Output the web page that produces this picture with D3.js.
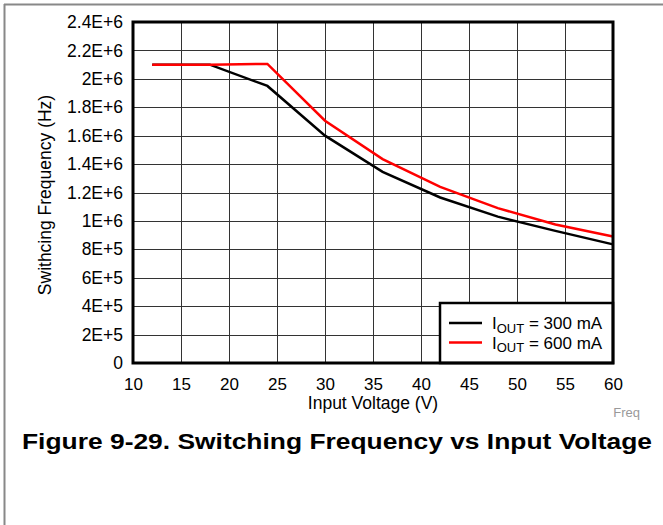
<!DOCTYPE html>
<html><head><meta charset="utf-8">
<script src="https://cdn.jsdelivr.net/npm/d3@7"></script>
<style>body{margin:0;background:#fff;}svg{display:block;font-family:"Liberation Sans",Arial,sans-serif;}</style>
</head><body>
<script>
const voltage = [12, 18, 24, 30, 36, 42, 48, 54, 60];
const freq300 = [2.1e6, 2.1e6, 1.95e6, 1.6e6, 1.345e6, 1.165e6, 1.03e6, 0.93e6, 0.835e6];
const freq600 = [2.1e6, 2.1e6, 2.105e6, 1.705e6, 1.435e6, 1.24e6, 1.09e6, 0.975e6, 0.89e6];
const xTicks = [10, 15, 20, 25, 30, 35, 40, 45, 50, 55, 60];
const yTicks = [0, 2e5, 4e5, 6e5, 8e5, 1e6, 1.2e6, 1.4e6, 1.6e6, 1.8e6, 2e6, 2.2e6, 2.4e6];
const yTickLabels = ["0", "2E+5", "4E+5", "6E+5", "8E+5", "1E+6", "1.2E+6", "1.4E+6", "1.6E+6", "1.8E+6", "2E+6", "2.2E+6", "2.4E+6"];
const seriesNames = ["300 mA", "600 mA"];
const seriesColors = ["#000000", "#ff0000"];

const W = 663, H = 525;
const svg = d3.select("body").append("svg").attr("width", W).attr("height", H);

// outer frame
svg.append("line").attr("x1", 4.5).attr("x2", 4.5).attr("y1", 4).attr("y2", H).attr("stroke", "#888").attr("stroke-width", 2);
svg.append("line").attr("x1", 4).attr("x2", W).attr("y1", 4.5).attr("y2", 4.5).attr("stroke", "#888").attr("stroke-width", 2);

const L = 133, R = 613, T = 22, B = 363;
const x = d3.scaleLinear().domain([10, 60]).range([L, R]);
const y = d3.scaleLinear().domain([0, 2.4e6]).range([B, T]);

const g = svg.append("g");
// grid
g.selectAll(".vg").data(xTicks).enter().append("line")
  .attr("x1", d => Math.round(x(d)) + 0.5).attr("x2", d => Math.round(x(d)) + 0.5)
  .attr("y1", T).attr("y2", B).attr("stroke", "#333").attr("stroke-width", 1);
g.selectAll(".hg").data(yTicks).enter().append("line")
  .attr("y1", d => Math.round(y(d)) + 0.5).attr("y2", d => Math.round(y(d)) + 0.5)
  .attr("x1", L).attr("x2", R).attr("stroke", "#333").attr("stroke-width", 1);

// axes labels via d3 axes
const xAxis = d3.axisBottom(x).tickValues(xTicks).tickSize(0).tickPadding(15).tickFormat(d3.format("d"));
const xa = svg.append("g").attr("transform", `translate(0,${B})`).call(xAxis);
xa.select(".domain").remove();
xa.selectAll("text").attr("font-size", 17).attr("font-family", "Liberation Sans, Arial, sans-serif").attr("fill", "#000");

const yAxis = d3.axisLeft(y).tickValues(yTicks).tickSize(0).tickPadding(10).tickFormat((d, i) => yTickLabels[i]);
const ya = svg.append("g").attr("transform", `translate(${L},0)`).call(yAxis);
ya.select(".domain").remove();
ya.selectAll("text").attr("font-size", 17.5).attr("font-family", "Liberation Sans, Arial, sans-serif").attr("fill", "#000");

// lines
const line = d3.line().x((d, i) => x(voltage[i])).y(d => y(d));
[freq300, freq600].forEach((s, k) => {
  svg.append("path").datum(s).attr("d", line).attr("fill", "none")
    .attr("stroke", seriesColors[k]).attr("stroke-width", 2.5).attr("stroke-linejoin", "miter");
});

// legend
const lg = svg.append("g");
lg.append("rect").attr("x", 440).attr("y", 303).attr("width", R - 440).attr("height", B - 303)
  .attr("fill", "#fff").attr("stroke", "#000").attr("stroke-width", 2.5);
seriesNames.forEach((n, k) => {
  const yy = 323 + k * 19.5;
  lg.append("line").attr("x1", 449).attr("x2", 482).attr("y1", yy).attr("y2", yy)
    .attr("stroke", seriesColors[k]).attr("stroke-width", 2.5);
  const t = lg.append("text").attr("x", 492).attr("y", yy + 6).attr("font-size", 17).attr("fill", "#000");
  t.append("tspan").text("I");
  t.append("tspan").attr("font-size", 13).attr("dy", 3.5).text("OUT");
  t.append("tspan").attr("dy", -3.5).text(" = " + n);
});

// plot border
svg.append("rect").attr("x", L).attr("y", T).attr("width", R - L).attr("height", B - T)
  .attr("fill", "none").attr("stroke", "#000").attr("stroke-width", 3);

// axis titles
svg.append("text").attr("x", 373).attr("y", 409).attr("text-anchor", "middle").attr("font-size", 17.5).text("Input Voltage (V)");
svg.append("text").attr("transform", "translate(51,195) rotate(-90)").attr("text-anchor", "middle").attr("font-size", 17.5).text("Swithcing Frequency (Hz)");
svg.append("text").attr("x", 640).attr("y", 417).attr("text-anchor", "end").attr("font-size", 13).attr("fill", "#999").text("Freq");

svg.append("text").attr("x", 22).attr("y", 449).attr("font-size", 22).attr("font-weight", "bold")
  .attr("textLength", 630).attr("lengthAdjust", "spacingAndGlyphs")
  .text("Figure 9-29. Switching Frequency vs Input Voltage");
</script>
</body></html>
